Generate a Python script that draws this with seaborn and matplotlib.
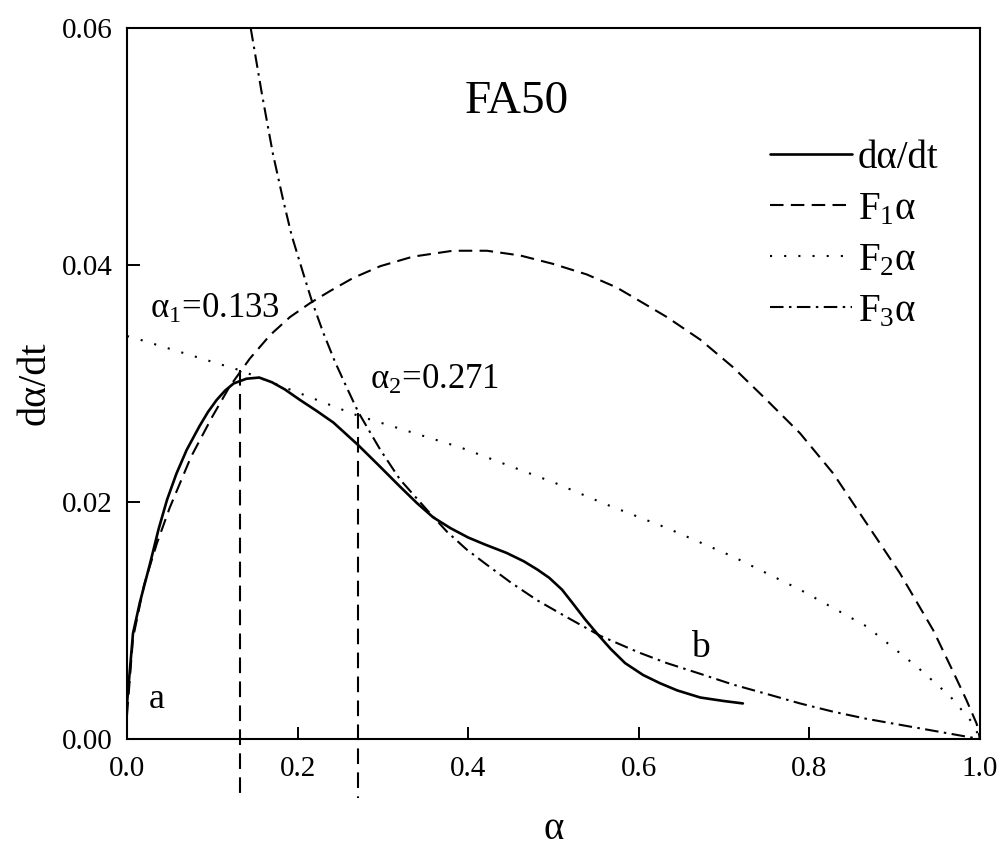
import numpy as np
import pandas as pd
import matplotlib
matplotlib.use("Agg")
import matplotlib.pyplot as plt
import seaborn as sns

# ---- data ----
rate_x = [0.0, 0.003, 0.007, 0.015, 0.027, 0.037, 0.047, 0.058, 0.070, 0.085, 0.095, 0.105, 0.115,
          0.125, 0.14, 0.155, 0.17, 0.185, 0.203, 0.222, 0.242, 0.271, 0.295, 0.32, 0.34, 0.359,
          0.379, 0.400, 0.420, 0.445, 0.465, 0.481, 0.495, 0.51, 0.522, 0.537, 0.551, 0.567, 0.584,
          0.605, 0.625, 0.645, 0.672, 0.700, 0.722]
rate_y = [0.0030, 0.0055, 0.0089, 0.0115, 0.0148, 0.0177, 0.0202, 0.0224, 0.0244, 0.0264, 0.0276, 0.0286, 0.0294,
          0.0300, 0.0304, 0.0305, 0.0301, 0.0295, 0.0286, 0.0277, 0.0267, 0.0248, 0.0231, 0.0213, 0.0199, 0.0187,
          0.0178, 0.0170, 0.0164, 0.0157, 0.0150, 0.0143, 0.0136, 0.0126, 0.0115, 0.0101, 0.0089, 0.0076, 0.0064,
          0.0054, 0.0047, 0.0041, 0.0035, 0.0032, 0.0030]

f1_x = [0.0, 0.007, 0.02, 0.035, 0.05, 0.075, 0.1, 0.12, 0.133, 0.144, 0.168, 0.191, 0.215, 0.238,
        0.265, 0.297, 0.335, 0.382, 0.422, 0.461, 0.499, 0.539, 0.574, 0.593, 0.633, 0.672, 0.710,
        0.750, 0.789, 0.828, 0.867, 0.906, 0.945, 0.969, 0.984, 0.996, 1.0]
f1_y = [0.0020, 0.0085, 0.0130, 0.0165, 0.0195, 0.0238, 0.0272, 0.0297, 0.0310, 0.0321, 0.0341, 0.0356, 0.0368, 0.0378,
        0.0389, 0.0399, 0.0407, 0.0412, 0.0412, 0.0408, 0.0401, 0.0392, 0.0381, 0.0373, 0.0356, 0.0337, 0.0314,
        0.0286, 0.0258, 0.0224, 0.0182, 0.0140, 0.0092, 0.0056, 0.0033, 0.0013, 0.0]

f2_x = [0.0, 0.015, 0.133, 0.27, 0.391, 0.502, 0.558, 0.633, 0.71, 0.789, 0.867, 0.926, 0.965, 0.992, 1.0]
f2_y = [0.0340, 0.0337, 0.0311, 0.0273, 0.0246, 0.0216, 0.0199, 0.0178, 0.0154, 0.0126, 0.0095, 0.0061, 0.0036, 0.0013, 0.0]

f3_x = [0.145, 0.158, 0.171, 0.183, 0.193, 0.207, 0.217, 0.230, 0.244, 0.258, 0.271, 0.297, 0.32, 0.352,
        0.375, 0.398, 0.420, 0.45, 0.481, 0.52, 0.555, 0.6, 0.633, 0.672, 0.71, 0.75, 0.789, 0.828,
        0.867, 0.906, 0.945, 0.984, 1.0]
f3_y = [0.0600, 0.0545, 0.0494, 0.0455, 0.0425, 0.0392, 0.0369, 0.0343, 0.0318, 0.0296, 0.0276, 0.0244, 0.0219, 0.0193,
        0.0175, 0.0160, 0.0148, 0.0132, 0.0117, 0.0101, 0.0087, 0.0073, 0.0064, 0.0055, 0.0046, 0.0038, 0.0030, 0.0023,
        0.0017, 0.0012, 0.0007, 0.0002, 0.0]

alpha_marks = [0.133, 0.271]
alpha_tops = [0.0311, 0.0275]
alpha_texts = [r"α$_1$=0.133", r"α$_2$=0.271"]

x_ticks = [0.0, 0.2, 0.4, 0.6, 0.8, 1.0]
x_tick_labels = ["0.0", "0.2", "0.4", "0.6", "0.8", "1.0"]
y_ticks = [0.00, 0.02, 0.04, 0.06]
y_tick_labels = ["0.00", "0.02", "0.04", "0.06"]

series_names = ["dα/dt", r"F$_1$α", r"F$_2$α", r"F$_3$α"]

# ---- style ----
sns.set_style("ticks")
plt.rcParams["font.family"] = ["Liberation Serif", "DejaVu Serif"]
plt.rcParams["mathtext.default"] = "regular"
for k in ["text.color", "axes.labelcolor", "xtick.color", "ytick.color", "axes.edgecolor"]:
    plt.rcParams[k] = "black"

fig = plt.figure(figsize=(10, 8.55), dpi=100)
ax = fig.add_axes([0.127, 0.1357, 0.853, 0.8316])

sns.lineplot(x=rate_x, y=rate_y, ax=ax, color="black", lw=1.9, sort=False,
             label=series_names[0])
sns.lineplot(x=f1_x, y=f1_y, ax=ax, color="black", lw=1.5, sort=False,
             label=series_names[1])
sns.lineplot(x=f2_x, y=f2_y, ax=ax, color="black", lw=1.5, sort=False,
             label=series_names[2])
sns.lineplot(x=f3_x, y=f3_y, ax=ax, color="black", lw=1.5, sort=False,
             label=series_names[3])
lines = ax.get_lines()
lines[1].set_dashes((6.5, 3.5))
lines[2].set_dashes((1.0, 5.8))
lines[3].set_dashes((6.5, 2.6, 1.2, 2.6))

# vertical markers down below the axis
for xm, yt in zip(alpha_marks, alpha_tops):
    ax.plot([xm, xm], [yt, -0.005], color="black", lw=1.5, dashes=(7.5, 4),
            clip_on=False)

ax.set_xlim(0, 1.0)
ax.set_ylim(0, 0.06)
ax.set_xticks(x_ticks)
ax.set_xticklabels(x_tick_labels)
ax.set_yticks(y_ticks)
ax.set_yticklabels(y_tick_labels)
ax.tick_params(direction="in", length=9, width=1.4, labelsize=21)
ax.tick_params(axis="x", pad=12)
ax.tick_params(axis="y", pad=10)
for s in ax.spines.values():
    s.set_linewidth(1.5)
    s.set_color("black")

ax.set_xlabel("α", fontsize=28, labelpad=21)
ax.set_ylabel("dα/dt", fontsize=29, labelpad=6)

ax.text(0.457, 0.0538, "FA50", fontsize=34, ha="center", va="center")
ax.text(0.027, 0.0355, alpha_texts[0], fontsize=25, ha="left", va="baseline")
ax.text(0.285, 0.0295, alpha_texts[1], fontsize=25, ha="left", va="baseline")
ax.text(0.035, 0.0033, "a", fontsize=26, ha="center", va="center")
ax.text(0.672, 0.0077, "b", fontsize=27, ha="center", va="center")

leg = ax.legend(loc="upper left", bbox_to_anchor=(0.754, 0.8425), frameon=False,
                fontsize=28, handlelength=2.1, handletextpad=0.15,
                labelspacing=0.36, borderpad=0, borderaxespad=0)

fig.savefig("out.png", dpi=100)
